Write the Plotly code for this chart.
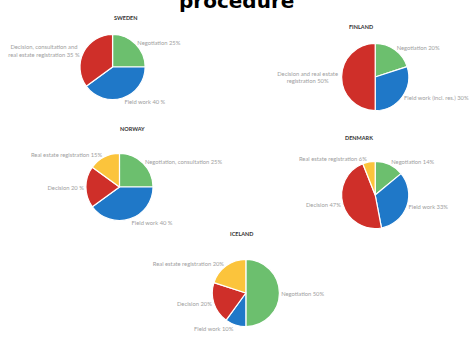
import plotly.graph_objects as go

W, H = 474, 338

countries = ["SWEDEN", "FINLAND", "NORWAY", "DENMARK", "ICELAND"]

sweden_labels = ["Negotiation 25%", "Field work 40 %", "Decision, consultation and<br>real estate registration 35 %"]
sweden_values = [25, 40, 35]

finland_labels = ["Negotiation 20%", "Field work (incl. res.) 30%", "Decision and real estate<br>registration 50%"]
finland_values = [20, 30, 50]

norway_labels = ["Negotiation, consultation 25%", "Field work 40 %", "Decision 20 %", "Real estate registration 15%"]
norway_values = [25, 40, 20, 15]

denmark_labels = ["Negotiation 14%", "Field work 33%", "Decision 47%", "Real estate registration 6%"]
denmark_values = [14, 33, 47, 6]

iceland_labels = ["Negotiation 50%", "Field work 10%", "Decision 20%", "Real estate registration 20%"]
iceland_values = [50, 10, 20, 20]

slice_colors = ["#6cbf6e", "#1f78c8", "#cf2f29", "#fbc43c"]

# layout (pixel centre and radius of each pie)
layout_px = {
    "SWEDEN": (114, 67, 33),
    "FINLAND": (380, 77, 34),
    "NORWAY": (121, 187, 34),
    "DENMARK": (380, 195, 34),
    "ICELAND": (249, 293, 34),
}
title_px = {
    "SWEDEN": (113, 13),
    "FINLAND": (380, 22),
    "NORWAY": (120, 129),
    "DENMARK": (380, 138),
    "ICELAND": (245, 239),
}

data = {
    "SWEDEN": (sweden_labels, sweden_values),
    "FINLAND": (finland_labels, finland_values),
    "NORWAY": (norway_labels, norway_values),
    "DENMARK": (denmark_labels, denmark_values),
    "ICELAND": (iceland_labels, iceland_values),
}

fig = go.Figure()
for c in countries:
    labels, values = data[c]
    cx, cy, r = layout_px[c]
    fig.add_trace(go.Pie(
        labels=labels,
        values=values,
        text=labels,
        textinfo="text",
        textposition="outside",
        sort=False,
        direction="clockwise",
        rotation=0,
        marker=dict(colors=slice_colors[:len(values)], line=dict(color="white", width=1.2)),
        outsidetextfont=dict(size=5.8, color="#a0a0a0", family="Lato"),
        domain=dict(x=[(cx - r) / W, (cx + r) / W], y=[1 - (cy + r) / H, 1 - (cy - r) / H]),
        hoverinfo="label",
        showlegend=False,
    ))

annotations = []
for c in countries:
    tx, ty = title_px[c]
    annotations.append(dict(
        text=f"<b>{c}</b>", x=tx / W, y=1 - ty / H, xref="paper", yref="paper",
        showarrow=False, font=dict(size=5.5, color="#333333", family="Lato"),
    ))
annotations.append(dict(
    text="<b>procedure</b>", x=240 / W, y=1 - 1 / H, xref="paper", yref="paper",
    showarrow=False, font=dict(size=20, color="#000000", family="DejaVu Sans"),
    yanchor="middle",
))

fig.update_layout(
    width=W, height=H,
    margin=dict(l=0, r=0, t=0, b=0),
    paper_bgcolor="white",
    plot_bgcolor="white",
    annotations=annotations,
)

fig.write_html(
    "out.html",
    config={"displayModeBar": False},
    post_script="document.body.style.margin='0';document.body.style.overflow='hidden';",
)
